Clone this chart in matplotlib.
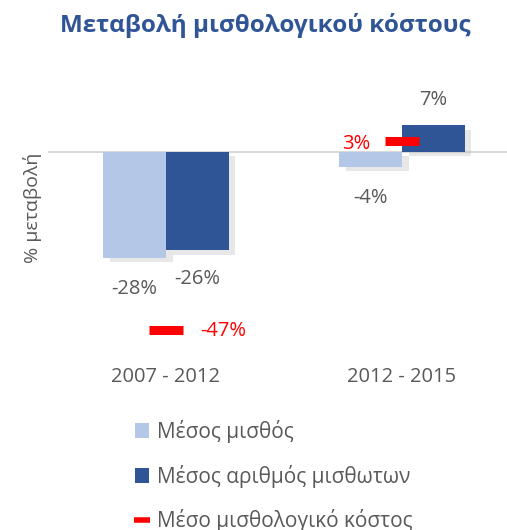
import matplotlib
matplotlib.use("Agg")
import matplotlib.pyplot as plt
import matplotlib.patheffects as pe
import numpy as np

plt.rcParams['font.family'] = ['Open Sans', 'DejaVu Sans']

categories = ["2007 - 2012", "2012 - 2015"]
avg_wage = [-28, -4]
avg_employees = [-26, 7]
avg_cost = [-47, 3]
series_names = ["Μέσος μισθός", "Μέσος αριθμός μισθωτων", "Μέσο μισθολογικό κόστος"]
title = "Μεταβολή μισθολογικού κόστους"
ylabel = "% μεταβολή"

c_light = "#B4C7E7"
c_dark = "#2F5597"
c_red = "#FF0000"
c_text = "#595959"
fs = 14.5

W, H = 507, 530
fig = plt.figure(figsize=(W / 100, H / 100), dpi=100)
# axes in pixel coords: left 48, right 507, top 75, bottom 355
ax = fig.add_axes([48 / W, (H - 355) / H, (507 - 48) / W, 280 / H])

x = np.arange(len(categories))
bw = 0.265
shadow = [pe.SimplePatchShadow(offset=(5, -3), shadow_rgbFace="#bbbbbb", alpha=0.35), pe.Normal()]
b1 = ax.bar(x - bw / 2, avg_wage, bw, color=c_light, zorder=3, path_effects=shadow, label=series_names[0])
b2 = ax.bar(x + bw / 2, avg_employees, bw, color=c_dark, zorder=3, path_effects=shadow, label=series_names[1])
ln, = ax.plot(x, avg_cost, linestyle="none", marker="_", markersize=25, markeredgewidth=6.5,
              color=c_red, zorder=5, label=series_names[2])

ax.axhline(0, color="#D9D9D9", lw=1.5, zorder=1)
ax.set_xlim(-0.5, 1.445)
ax.set_ylim(-53.6, 20.3)

for s in ax.spines.values():
    s.set_visible(False)
ax.set_yticks([])
ax.set_xticks([])

# data labels
for xi, v in zip(x - bw / 2, avg_wage):
    off = 26 if v >= 0 else -31
    ax.annotate(f"{v}%", (xi, v), xytext=(0, off), textcoords="offset pixels",
                ha="center", va="center", fontsize=fs, color=c_text)
for xi, v in zip(x + bw / 2, avg_employees):
    off = 25 if v >= 0 else -29
    ax.annotate(f"{v}%", (xi, v), xytext=(0, off), textcoords="offset pixels",
                ha="center", va="center", fontsize=fs, color=c_text)
ax.annotate(f"{avg_cost[0]}%", (x[0], avg_cost[0]), xytext=(57, -1), textcoords="offset pixels",
            ha="center", va="center", fontsize=fs, color=c_red)
ax.annotate(f"{avg_cost[1]}%", (x[1], avg_cost[1]), xytext=(-46, -3), textcoords="offset pixels",
            ha="center", va="center", fontsize=fs, color=c_red)

# category labels
for xi, c in zip(x, categories):
    ax.annotate(c, (xi, -53.6), xytext=(0, -22), textcoords="offset pixels",
                ha="center", va="center", fontsize=fs, color=c_text, annotation_clip=False)

fig.text(32 / W, 1 - 208 / H, ylabel, rotation=90, ha="center", va="center", fontsize=14, color=c_text)
fig.text(265 / W, 1 - 25 / H, title, ha="center", va="center", fontsize=17.5, fontweight="bold", color=c_dark)

leg = fig.legend(handles=[b1, b2, ln], labels=series_names, loc="upper left",
                 bbox_to_anchor=(116 / W, 1 - 401 / H), frameon=False, fontsize=15,
                 labelcolor=c_text, handlelength=0.7, handleheight=0.7, handletextpad=0.35,
                 labelspacing=1.05)
for h in leg.legend_handles[:2]:
    h.set_path_effects([])
leg.legend_handles[2].set_markersize(12)
leg.legend_handles[2].set_markeredgewidth(4)

fig.savefig("out.png", dpi=100)
